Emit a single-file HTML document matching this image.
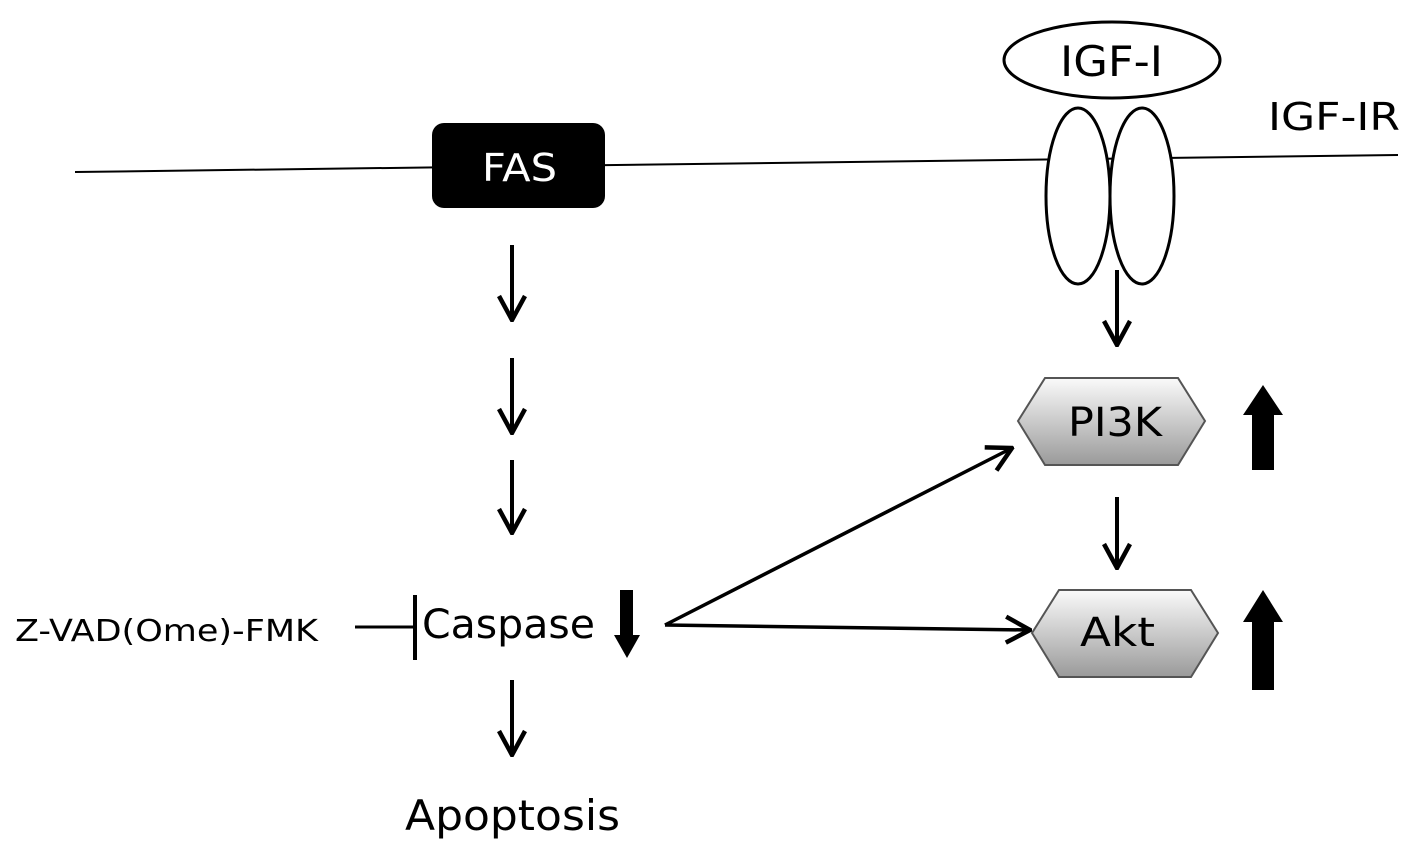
<!DOCTYPE html>
<html><head><style>body{margin:0;background:#fff}svg{display:block}text{font-family:"DejaVu Sans","Liberation Sans",sans-serif}</style></head><body>
<svg width="1417" height="860" viewBox="0 0 1417 860">
<defs>
<linearGradient id="g" x1="0" y1="0" x2="0" y2="1"><stop offset="0" stop-color="#fafafa"/><stop offset="1" stop-color="#9a9a9a"/></linearGradient>
<marker id="ah2" markerWidth="30" markerHeight="30" refX="28" refY="15" orient="auto" markerUnits="userSpaceOnUse"><path d="M4,2 L28,15 L4,28" fill="none" stroke="#000" stroke-width="4.5"/></marker>
</defs>
<line x1="75" y1="172" x2="1398" y2="155" stroke="#000" stroke-width="2"/>
<rect x="432" y="123" width="173" height="85" rx="12" fill="#000"/>
<text x="482" y="181" font-size="38" fill="#fff" textLength="75" lengthAdjust="spacingAndGlyphs">FAS</text>
<ellipse cx="1112" cy="60" rx="108" ry="38" fill="#fff" stroke="#000" stroke-width="3"/>
<text x="1060" y="76" font-size="42" textLength="103" lengthAdjust="spacingAndGlyphs">IGF-I</text>
<ellipse cx="1078" cy="196" rx="32" ry="88" fill="#fff" stroke="#000" stroke-width="3"/>
<ellipse cx="1142" cy="196" rx="32" ry="88" fill="#fff" stroke="#000" stroke-width="3"/>
<text x="1268" y="130" font-size="38" textLength="132" lengthAdjust="spacingAndGlyphs">IGF-IR</text>
<g stroke="#000" stroke-width="4" fill="none">
<line x1="512" y1="245" x2="512" y2="320" marker-end="url(#ah2)"/>
<line x1="512" y1="358" x2="512" y2="433" marker-end="url(#ah2)"/>
<line x1="512" y1="460" x2="512" y2="533" marker-end="url(#ah2)"/>
<line x1="512" y1="680" x2="512" y2="755" marker-end="url(#ah2)"/>
<line x1="1117" y1="270" x2="1117" y2="345" marker-end="url(#ah2)"/>
<line x1="1117" y1="497" x2="1117" y2="568" marker-end="url(#ah2)"/>
<line x1="665" y1="625" x2="1012" y2="448" stroke-width="3.5" marker-end="url(#ah2)"/>
<line x1="665" y1="625" x2="1030" y2="630" stroke-width="3.5" marker-end="url(#ah2)"/>
<line x1="355" y1="627" x2="415" y2="627" stroke-width="3"/>
<line x1="415" y1="595" x2="415" y2="660" stroke-width="4"/>
</g>
<polygon points="1045,378 1178,378 1205,421 1178,465 1045,465 1018,421" fill="url(#g)" stroke="#555" stroke-width="2"/>
<text x="1068" y="436" font-size="40" textLength="94" lengthAdjust="spacingAndGlyphs">PI3K</text>
<polygon points="1059,590 1191,590 1218,633 1191,677 1059,677 1032,633" fill="url(#g)" stroke="#555" stroke-width="2"/>
<text x="1080" y="646" font-size="40" textLength="75" lengthAdjust="spacingAndGlyphs">Akt</text>
<polygon points="1252,470 1252,415 1243,415 1263,385 1283,415 1274,415 1274,470" fill="#000"/>
<polygon points="1252,690 1252,622 1243,622 1263,590 1283,622 1274,622 1274,690" fill="#000"/>
<polygon points="620,590 633,590 633,635 640,635 627,658 614,635 620,635" fill="#000"/>
<text x="422" y="638" font-size="40" textLength="173" lengthAdjust="spacingAndGlyphs">Caspase</text>
<text x="15" y="641" font-size="30" textLength="303" lengthAdjust="spacingAndGlyphs">Z-VAD(Ome)-FMK</text>
<text x="405" y="830" font-size="42" textLength="215" lengthAdjust="spacingAndGlyphs">Apoptosis</text>
</svg>
</body></html>
